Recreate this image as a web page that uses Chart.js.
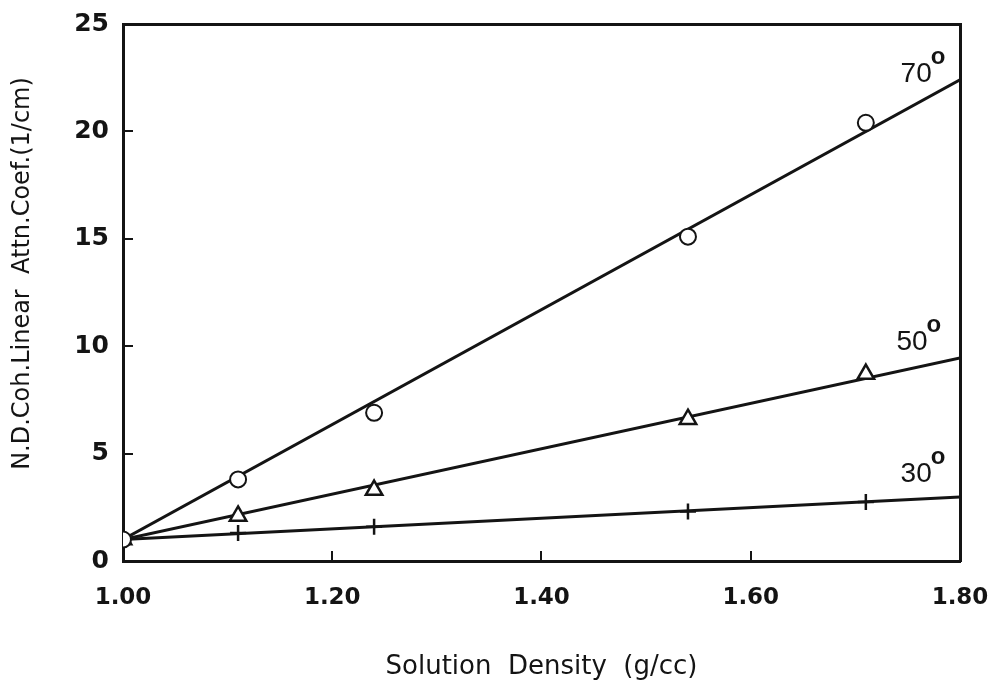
<!DOCTYPE html>
<html>
<head>
<meta charset="utf-8">
<script src="https://cdn.jsdelivr.net/npm/chart.js@4.4.0/dist/chart.umd.min.js"></script>
<style>
  html, body { margin: 0; padding: 0; background: #fff; }
  #wrap { width: 995px; height: 685px; position: relative; }
</style>
</head>
<body>
<div id="wrap"><canvas id="chart"></canvas></div>
<script>
// Measured coefficients at each solution density, one array per scattering angle
const densities = [1.00, 1.11, 1.24, 1.54, 1.71];
const coef70 = [1.0, 3.8, 6.9, 15.1, 20.4];
const coef50 = [1.0, 2.1, 3.3, 6.6, 8.7];
const coef30 = [1.0, 1.3, 1.6, 2.3, 2.75];

// Straight-line fits, given by their end points
const fitDensities = [1.00, 1.80];
const fit70 = [1.0, 22.4];
const fit50 = [1.0, 9.45];
const fit30 = [1.0, 2.98];

const angleNames = ['70', '50', '30'];

const xTickValues = [1.00, 1.20, 1.40, 1.60, 1.80];
const xTickLabels = ['1.00', '1.20', '1.40', '1.60', '1.80'];
const yTickValues = [0, 5, 10, 15, 20, 25];
const yTickLabels = ['0', '5', '10', '15', '20', '25'];

const INK = '#141414';
const pairs = (xs, ys) => xs.map((x, i) => ({ x, y: ys[i] }));

Chart.defaults.font.family = '"DejaVu Sans", sans-serif';
Chart.defaults.color = INK;

// Angle tags beside each fit line and the rotated y-axis caption
const annotate = {
  id: 'annotate',
  afterDraw(chart, args, opts) {
    const { ctx, chartArea: a, scales } = chart;
    ctx.save();
    ctx.fillStyle = INK;
    ctx.font = '24px "DejaVu Sans"';
    ctx.textAlign = 'center';
    ctx.textBaseline = 'middle';
    ctx.translate(a.left - 100, (a.top + a.bottom) / 2 - 19);
    ctx.rotate(-Math.PI / 2);
    ctx.fillText(opts.yTitle, 0, 0);
    ctx.restore();

    ctx.save();
    ctx.fillStyle = INK;
    ctx.textBaseline = 'alphabetic';
    opts.tags.forEach(t => {
      const px = scales.x.getPixelForValue(t.x);
      const py = scales.y.getPixelForValue(t.y);
      ctx.font = '28px "Liberation Sans"';
      ctx.textAlign = 'right';
      ctx.fillText(t.text, px, py);
      // superscript degree ring
      ctx.font = 'bold 24px "Liberation Sans"';
      ctx.textAlign = 'left';
      ctx.fillText('o', px - 1, py - 18);
    });
    ctx.restore();
  }
};

const markerSet = (label, ys, style, radius) => ({
  label,
  data: pairs(densities, ys),
  showLine: false,
  pointStyle: style,
  pointRadius: radius,
  pointHoverRadius: radius,
  pointBorderWidth: style === 'circle' ? 2 : 2.5,
  pointBorderColor: INK,
  pointBackgroundColor: style === 'cross' ? INK : '#fff'
});

const fitSet = (label, ys) => ({
  label,
  data: pairs(fitDensities, ys),
  showLine: true,
  borderColor: INK,
  borderWidth: 3,
  pointRadius: 0,
  pointHoverRadius: 0,
  fill: false
});

// Fixed box sizes so the plot frame sits at the same place every time
const fixedWidth = w => s => { s.width = w; s.paddingTop = 0; s.paddingBottom = 0; };
const fixedHeight = h => s => { s.height = h; s.paddingLeft = 0; s.paddingRight = 0; };

new Chart(document.getElementById('chart'), {
  type: 'scatter',
  data: {
    datasets: [
      markerSet(angleNames[0], coef70, 'circle', 8),
      markerSet(angleNames[1], coef50, 'triangle', 9.5),
      markerSet(angleNames[2], coef30, 'cross', 8),
      fitSet(angleNames[0] + ' fit', fit70),
      fitSet(angleNames[1] + ' fit', fit50),
      fitSet(angleNames[2] + ' fit', fit30)
    ]
  },
  options: {
    responsive: true,
    maintainAspectRatio: false,
    animation: false,
    events: [],
    layout: { padding: 0 },
    plugins: {
      legend: { display: false },
      tooltip: { enabled: false },
      annotate: {
        yTitle: 'N.D.Coh.Linear  Attn.Coef.(1/cm)',
        tags: [
          { text: angleNames[0], x: 1.773, y: 22.3 },
          { text: angleNames[1], x: 1.769, y: 9.82 },
          { text: angleNames[2], x: 1.773, y: 3.68 }
        ]
      }
    },
    scales: {
      x: {
        type: 'linear',
        position: 'bottom',
        min: 1.0,
        max: 1.8,
        afterBuildTicks: s => { s.ticks = xTickValues.map(v => ({ value: v })); },
        afterFit: fixedHeight(124),
        ticks: {
          padding: 33,
          font: { size: 23, weight: 'bold' },
          color: INK,
          maxRotation: 0,
          autoSkip: false,
          callback: (v, i) => xTickLabels[i]
        },
        grid: { display: true, drawOnChartArea: false, drawTicks: true, tickLength: -10, lineWidth: 2, color: INK },
        border: { display: true, width: 3, color: INK },
        title: {
          display: true,
          text: 'Solution  Density  (g/cc)',
          font: { size: 26 },
          color: INK,
          padding: { top: 0, bottom: 2 }
        }
      },
      y: {
        type: 'linear',
        position: 'left',
        min: 0,
        max: 25,
        afterBuildTicks: s => { s.ticks = yTickValues.map(v => ({ value: v })); },
        afterFit: fixedWidth(123),
        ticks: {
          padding: 24,
          font: { size: 25, weight: 'bold' },
          color: INK,
          autoSkip: false,
          callback: (v, i) => yTickLabels[i]
        },
        grid: { display: true, drawOnChartArea: false, drawTicks: true, tickLength: -10, lineWidth: 2, color: INK },
        border: { display: true, width: 3, color: INK }
      },
      xTop: {
        type: 'linear',
        position: 'top',
        min: 1.0,
        max: 1.8,
        display: true,
        afterFit: fixedHeight(24),
        ticks: { display: false },
        grid: { display: false },
        border: { display: true, width: 3, color: INK }
      },
      yRight: {
        type: 'linear',
        position: 'right',
        min: 0,
        max: 25,
        display: true,
        afterFit: fixedWidth(35),
        ticks: { display: false },
        grid: { display: false },
        border: { display: true, width: 3, color: INK }
      }
    }
  },
  plugins: [annotate]
});
</script>
</body>
</html>
